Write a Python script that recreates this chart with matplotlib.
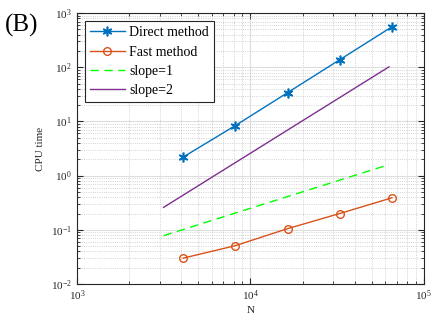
import numpy as np
from matplotlib import pyplot as plt

# problem sizes and timings
N = [4096, 8192, 16384, 32768, 65536]
direct_time = [2.2, 8.4, 34, 138, 560]
fast_time = [0.03, 0.051, 0.105, 0.2, 0.39]

# reference slope lines
N_ref = [3162, 63000]
slope1 = [0.078, 1.6]
slope2 = [0.26, 102]

plt.rcParams['font.family'] = ['Liberation Serif', 'DejaVu Serif']
plt.rcParams['mathtext.fontset'] = 'stix'

fig = plt.figure(figsize=(4.32, 3.2), dpi=100)
ax = fig.add_axes([0.178, 0.1125, 0.803, 0.8465])

ax.loglog(N, direct_time, color='#0072BD', marker=(6, 2, 0), markersize=7, mew=1.2,
          lw=1, label='Direct method')
ax.loglog(N, fast_time, color='#D95319', marker='o', markersize=5.5, mfc='none', lw=1,
          label='Fast method')
ax.loglog(N_ref, slope1, color='#00FF00', ls=(0, (6, 4)), lw=1, label='slope=1')
ax.loglog(N_ref, slope2, color='#7E2F8E', lw=1, label='slope=2')

ax.set_xlim(1e3, 1e5)
ax.set_ylim(1e-2, 1e3)
ax.set_xlabel('N', fontsize=8, color='#262626', labelpad=2)
ax.set_ylabel('CPU time', fontsize=8, color='#262626', labelpad=4)

ax.grid(True, which='major', color='#dddddd', lw=0.8, ls='-')
ax.grid(True, which='minor', color='#c4c4c4', lw=0.6, ls=':')
ax.set_axisbelow(True)
ax.tick_params(which='both', direction='in', top=True, right=True, labelsize=8,
               labelcolor='#262626', color='#262626')
ax.tick_params(which='major', length=4)
ax.tick_params(which='minor', length=2)
for s in ax.spines.values():
    s.set_color('#262626')
    s.set_linewidth(0.8)

leg = ax.legend(loc='upper left', fontsize=10, fancybox=False, edgecolor='#262626',
                framealpha=1, borderaxespad=0.6, handlelength=2.5,
                labelspacing=0.45, borderpad=0.35, handletextpad=0.3)
leg.get_frame().set_linewidth(0.8)

fig.text(0.012, 0.9, '(B)', fontsize=18)

plt.savefig('out.png', dpi=100)
